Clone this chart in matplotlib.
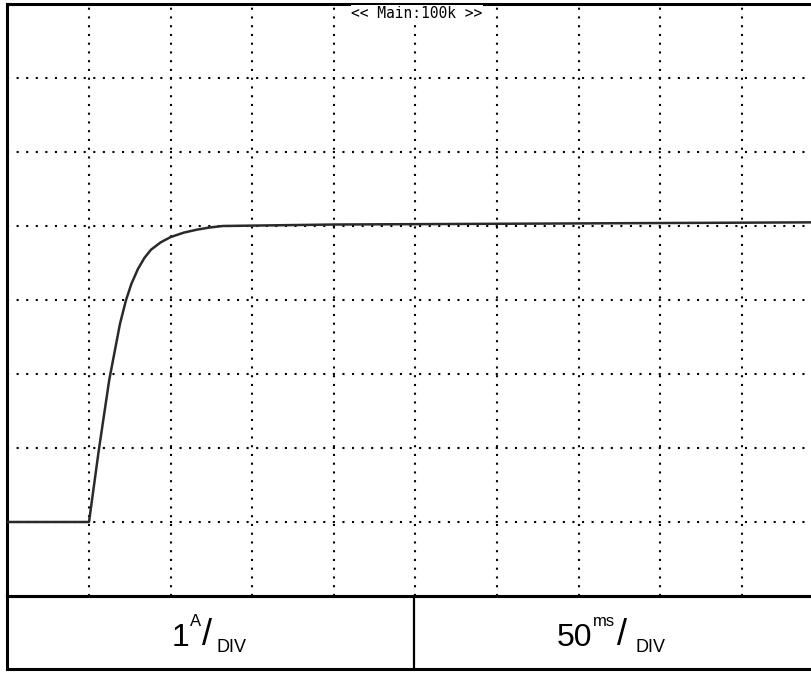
import matplotlib
matplotlib.use("Agg")
import matplotlib.pyplot as plt
from matplotlib.lines import Line2D

# Trace (current step, 1 A/div, 50 ms/div)
time_ms = [0, 50, 56, 62.4, 69, 72.7, 76, 80, 84, 88, 94, 100, 108, 116, 124, 132, 200, 300, 400, 500]
current_a = [0, 0, 0.97, 1.92, 2.68, 3.0, 3.22, 3.42, 3.57, 3.68, 3.78, 3.85, 3.91, 3.95, 3.98, 4.0,
             4.02, 4.03, 4.04, 4.05]
ground_div = 1  # trace reference sits one division above the bottom

x_divs = list(range(0, 501, 50))
y_divs = list(range(0, 9))

W, H = 812, 673
fig = plt.figure(figsize=(W / 100, H / 100), dpi=100)

def fx(px):
    return px / W

def fy(py):
    return 1 - py / H

# screen area: left edge ~7.4px, 81.6 px/div, top 4px, 74 px/div
ax = fig.add_axes([fx(7.4), fy(596), 816 / W, 592 / H])
ax.set_xlim(0, 500)
ax.set_ylim(0, 8)
ax.set_xticks([])
ax.set_yticks([])
for s in ax.spines.values():
    s.set_linewidth(2.2)
    s.set_color("black")

for xv in x_divs[1:-1]:
    ax.axvline(xv, color="black", lw=1.5, ls=(0, (1, 3.2)), zorder=1)
for yv in y_divs[1:-1]:
    ax.axhline(yv, color="black", lw=1.5, ls=(0, (1, 3.6)), zorder=1)

ax.plot(time_ms, [c + ground_div for c in current_a], color="#2a2a2a", lw=1.8, zorder=3)

ax.text(251, 7.97, "<< Main:100k >>", ha="center", va="top", fontsize=10.5,
        family="DejaVu Sans Mono", color="black",
        bbox=dict(facecolor="white", edgecolor="none", pad=0.5), zorder=4)

# label boxes below the screen
fig.add_artist(Line2D([fx(7.4), 1], [fy(596), fy(596)], color="black", lw=2.2))
fig.add_artist(Line2D([fx(7.4), 1], [fy(669), fy(669)], color="black", lw=2.2))
fig.add_artist(Line2D([fx(7.4), fx(7.4)], [fy(596), fy(669)], color="black", lw=2.2))
fig.add_artist(Line2D([fx(414), fx(414)], [fy(596), fy(669)], color="black", lw=1.6))

lab = dict(family="Liberation Sans", color="black", va="baseline", ha="center")
fig.text(fx(181), fy(646), "1", fontsize=23, **lab)
fig.text(fx(196), fy(626), "A", fontsize=12, **lab)
fig.text(fx(207), fy(645), "/", fontsize=26, **lab)
fig.text(fx(232), fy(652), "DIV", fontsize=13, **lab)

fig.text(fx(575), fy(646), "50", fontsize=23, **lab)
fig.text(fx(604), fy(626), "ms", fontsize=12, **lab)
fig.text(fx(622), fy(645), "/", fontsize=26, **lab)
fig.text(fx(651), fy(652), "DIV", fontsize=13, **lab)

fig.savefig("out.png", dpi=100)
